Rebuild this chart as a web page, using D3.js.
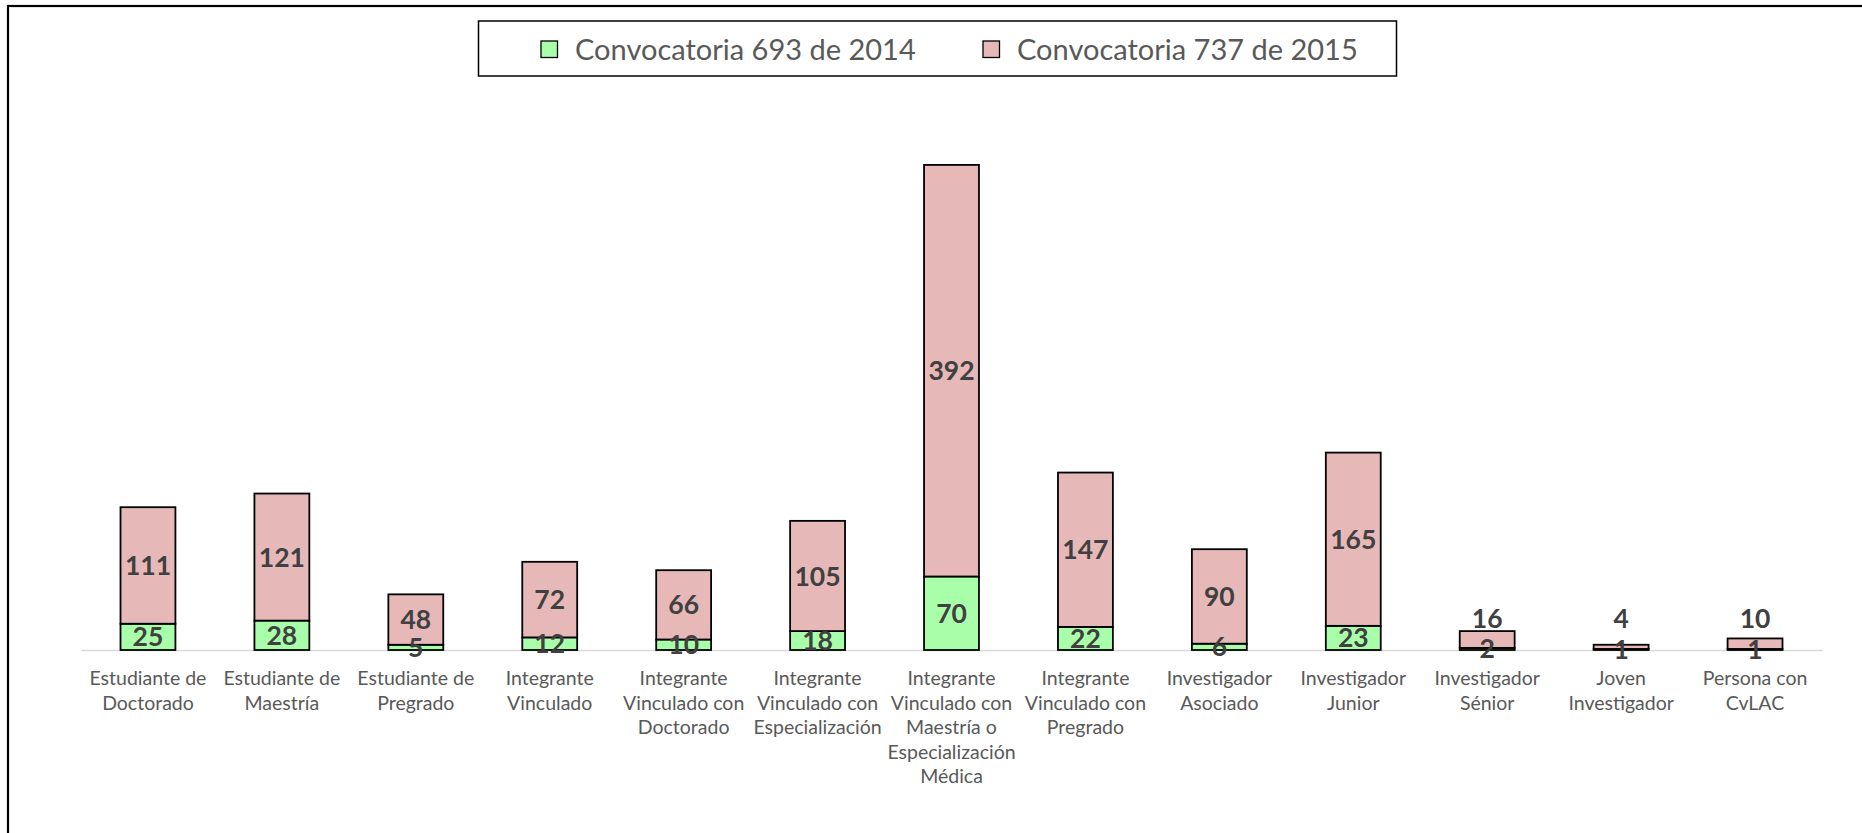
<!DOCTYPE html>
<html>
<head>
<meta charset="utf-8">
<script src="https://cdn.jsdelivr.net/npm/d3@7"></script>
<style>
  html, body { margin: 0; padding: 0; background: #fff; }
  svg { display: block; }
</style>
</head>
<body>
<svg id="chart" width="1862" height="833"></svg>
<script>
const categories = [
  "Estudiante de\nDoctorado",
  "Estudiante de\nMaestría",
  "Estudiante de\nPregrado",
  "Integrante\nVinculado",
  "Integrante\nVinculado con\nDoctorado",
  "Integrante\nVinculado con\nEspecialización",
  "Integrante\nVinculado con\nMaestría o\nEspecialización\nMédica",
  "Integrante\nVinculado con\nPregrado",
  "Investigador\nAsociado",
  "Investigador\nJunior",
  "Investigador\nSénior",
  "Joven\nInvestigador",
  "Persona con\nCvLAC"
];
const seriesNames = ["Convocatoria 693 de 2014", "Convocatoria 737 de 2015"];
const values2014 = [25, 28, 5, 12, 10, 18, 70, 22, 6, 23, 2, 1, 1];
const values2015 = [111, 121, 48, 72, 66, 105, 392, 147, 90, 165, 16, 4, 10];
const yDomain = [0, 500];

const colors = ["#A9FFA9", "#E6B9B8"];
const font = "Lato, 'Open Sans', sans-serif";

const svg = d3.select("#chart");

// outer chart border
svg.append("rect")
  .attr("x", 8).attr("y", 6)
  .attr("width", 1900).attr("height", 900)
  .attr("fill", "none").attr("stroke", "#000").attr("stroke-width", 2.2);

const x = d3.scaleBand()
  .domain(categories)
  .range([81, 1822])
  .paddingInner(0.59)
  .paddingOuter(0.295);

const y = d3.scaleLinear().domain(yDomain).range([650, 125]);

const rows = categories.map((c, i) => ({ cat: c, a: values2014[i], b: values2015[i] }));
const stacked = d3.stack().keys(["a", "b"])(rows);

// baseline axis
const xAxis = d3.axisBottom(x).tickSize(0).tickFormat("");
const axisG = svg.append("g").attr("transform", `translate(0,${y(0)})`).call(xAxis);
axisG.select(".domain").attr("stroke", "#D9D9D9").attr("stroke-width", 1.5);

// bars
stacked.forEach((layer, li) => {
  svg.append("g").selectAll("rect")
    .data(layer)
    .join("rect")
    .attr("x", d => x(d.data.cat))
    .attr("width", x.bandwidth())
    .attr("y", d => y(d[1]))
    .attr("height", d => y(d[0]) - y(d[1]))
    .attr("fill", colors[li])
    .attr("stroke", "#000")
    .attr("stroke-width", 1.8);
});

// data labels
const labelH = 22;
stacked.forEach((layer, li) => {
  svg.append("g").selectAll("text")
    .data(layer)
    .join("text")
    .attr("x", d => x(d.data.cat) + x.bandwidth() / 2)
    .attr("y", d => {
      const h = y(d[0]) - y(d[1]);
      if (li === 1 && h < labelH) return y(0) - 32;
      return (y(d[0]) + y(d[1])) / 2;
    })
    .attr("dy", "0.36em")
    .attr("text-anchor", "middle")
    .attr("font-family", font)
    .attr("font-weight", "bold")
    .attr("font-size", 26.5)
    .attr("fill", "#404040")
    .text(d => d[1] - d[0]);
});

// category labels
const catG = svg.append("g");
categories.forEach(c => {
  const t = catG.append("text")
    .attr("x", x(c) + x.bandwidth() / 2)
    .attr("y", 685)
    .attr("text-anchor", "middle")
    .attr("font-family", font)
    .attr("font-size", 19.5)
    .attr("fill", "#595959");
  c.split("\n").forEach((line, i) => {
    t.append("tspan")
      .attr("x", x(c) + x.bandwidth() / 2)
      .attr("dy", i === 0 ? 0 : 24.5)
      .text(line);
  });
});

// legend
const leg = svg.append("g");
leg.append("rect")
  .attr("x", 478.5).attr("y", 21)
  .attr("width", 918).attr("height", 55)
  .attr("fill", "#fff").attr("stroke", "#000").attr("stroke-width", 1.5);
const legX = [541, 983];
seriesNames.forEach((s, i) => {
  leg.append("rect")
    .attr("x", legX[i]).attr("y", 41)
    .attr("width", 16.5).attr("height", 16.5)
    .attr("fill", colors[i]).attr("stroke", "#000").attr("stroke-width", 1.3);
  leg.append("text")
    .attr("x", legX[i] + 34).attr("y", 49.5)
    .attr("dy", "0.36em")
    .attr("font-family", font)
    .attr("font-size", 29)
    .attr("fill", "#595959")
    .text(s);
});
</script>
</body>
</html>
